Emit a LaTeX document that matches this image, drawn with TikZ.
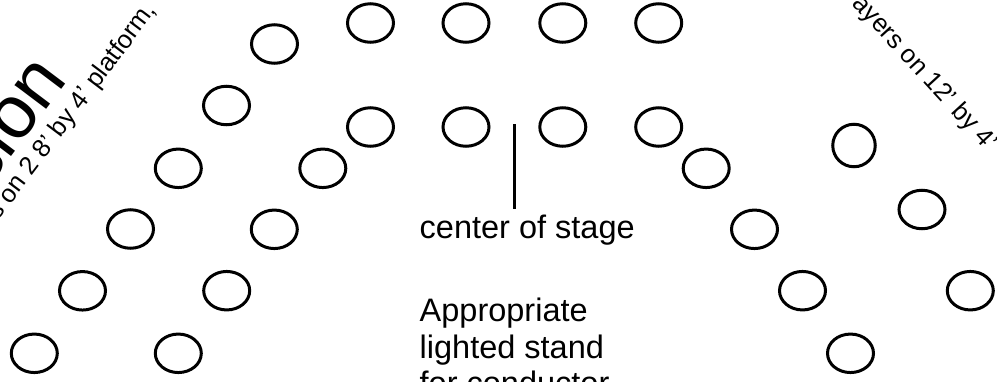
\documentclass[tikz,border=0pt]{standalone}
\usepackage{fontspec}
\setmainfont{Liberation Sans}
\usetikzlibrary{shapes.geometric}
\tikzset{
  seat/.style={draw, line width=3pt, ellipse, inner sep=0pt, minimum width=46pt, minimum height=38.5pt},
  roundseat/.style={draw, line width=3pt, circle, inner sep=0pt, minimum size=42.5pt},
  label/.style={inner sep=0pt, font=\fontsize{32.5}{36.5}\selectfont},
  small/.style={inner sep=0pt, font=\fontsize{25.5}{30}\selectfont},
  big/.style={inner sep=0pt, font=\fontsize{75}{84}\selectfont},
  pointer/.style={line width=2.7pt}
}
\begin{document}
\begin{tikzpicture}[x=1pt,y=-1pt]
\useasboundingbox (0,0) rectangle (997,381);
% top row
\node[seat] (t1) at (370.5,23) {};
\node[seat] (t2) at (466,23) {};
\node[seat] (t3) at (562.8,23) {};
\node[seat] (t4) at (658.7,23) {};
% second row
\node[seat] (r1) at (370.5,127) {};
\node[seat] (r2) at (466,127) {};
\node[seat] (r3) at (562.8,127) {};
\node[seat] (r4) at (658.7,127) {};
% left outer arc
\node[seat] (lo1) at (274.5,44) {};
\node[seat] (lo2) at (226.5,105.5) {};
\node[seat] (lo3) at (178.3,168.3) {};
\node[seat] (lo4) at (130.5,229) {};
\node[seat] (lo5) at (82.5,290.8) {};
\node[seat] (lo6) at (34.3,353.3) {};
% left inner arc
\node[seat] (li1) at (322.8,168.3) {};
\node[seat] (li2) at (274.3,229.3) {};
\node[seat] (li3) at (226.7,290.7) {};
\node[seat] (li4) at (178.3,353.3) {};
% right inner arc
\node[seat] (ri1) at (706.2,168.3) {};
\node[seat] (ri2) at (754.5,229.3) {};
\node[seat] (ri3) at (802.5,290.7) {};
\node[seat] (ri4) at (850.5,353.3) {};
% right outer
\node[roundseat] (ro1) at (854,145.5) {};
\node[seat] (ro2) at (922,209.5) {};
\node[seat] (ro3) at (970.3,290.7) {};
% center of stage
\coordinate (ctop) at (514.5,124.3);
\coordinate (cbot) at (514.5,209);
\draw[pointer] (ctop) -- (cbot);
\node[label, anchor=base west] (center) at (419.5,238) {center of stage};
\node[label, anchor=base west, align=left] (stand) at (419.5,394.7) {Appropriate\\lighted stand\\for conductor};
% rotated texts
\node[big, rotate=53, anchor=base east] (title) at (69.1,80) {sion};
\node[small, rotate=53, anchor=base west] (leftnote) at (-1.7,221) {s on 2 8’ by 4’ platform,};
\node[small, rotate=-47.5, anchor=base east] (rightnote) at (987,152) {ayers on 12’ by 4’};
\end{tikzpicture}
\end{document}
